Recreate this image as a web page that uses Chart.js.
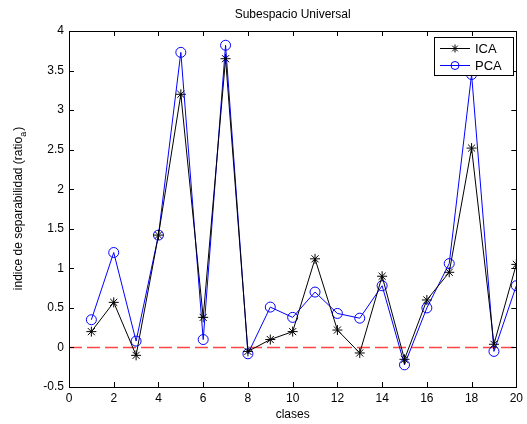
<!DOCTYPE html>
<html>
<head>
<meta charset="utf-8">
<script src="https://cdn.jsdelivr.net/npm/chart.js@4.4.0/dist/chart.umd.min.js"></script>
<style>
  html, body { margin: 0; padding: 0; background: #fff; }
  #wrap { width: 527px; height: 424px; }
</style>
</head>
<body>
<div id="wrap"><canvas id="chart" width="527" height="424"></canvas></div>
<script>
const clases = [1, 2, 3, 4, 5, 6, 7, 8, 9, 10, 11, 12, 13, 14, 15, 16, 17, 18, 19, 20];
const icaValues = [0.2, 0.57, -0.1, 1.42, 3.2, 0.38, 3.65, -0.05, 0.1, 0.2, 1.12, 0.22, -0.07, 0.9, -0.15, 0.6, 0.95, 2.52, 0.04, 1.05];
const pcaValues = [0.35, 1.2, 0.08, 1.42, 3.73, 0.1, 3.82, -0.08, 0.51, 0.38, 0.7, 0.43, 0.37, 0.78, -0.22, 0.5, 1.06, 3.45, -0.05, 0.78];
const xTicks = [0, 2, 4, 6, 8, 10, 12, 14, 16, 18, 20];
const yTicks = [-0.5, 0, 0.5, 1, 1.5, 2, 2.5, 3, 3.5, 4];
const zeroLine = [{ x: 0, y: 0 }, { x: 20, y: 0 }];

const FONT = "'Liberation Sans', Arial, sans-serif";

// box, inward ticks, titles and legend drawn MATLAB style
const matlabFrame = {
  id: 'matlabFrame',
  afterDraw(chart) {
    const ctx = chart.ctx;
    const a = chart.chartArea;
    const xs = chart.scales.x, ys = chart.scales.y;
    ctx.save();
    ctx.strokeStyle = '#000';
    ctx.lineWidth = 1;
    ctx.strokeRect(Math.round(a.left) + 0.5, Math.round(a.top) + 0.5,
      Math.round(a.right - a.left), Math.round(a.bottom - a.top));
    ctx.beginPath();
    xTicks.forEach(v => {
      const px = Math.round(xs.getPixelForValue(v)) + 0.5;
      ctx.moveTo(px, a.bottom); ctx.lineTo(px, a.bottom - 5);
      ctx.moveTo(px, a.top); ctx.lineTo(px, a.top + 5);
    });
    yTicks.forEach(v => {
      const py = Math.round(ys.getPixelForValue(v)) + 0.5;
      ctx.moveTo(a.left, py); ctx.lineTo(a.left + 5, py);
      ctx.moveTo(a.right, py); ctx.lineTo(a.right - 5, py);
    });
    ctx.stroke();

    ctx.fillStyle = '#000';
    ctx.font = '12px ' + FONT;
    ctx.textAlign = 'center';
    ctx.textBaseline = 'alphabetic';
    ctx.fillText('Subespacio Universal', (a.left + a.right) / 2, 18);
    ctx.fillText('clases', (a.left + a.right) / 2, 418);

    // y label with subscript
    ctx.translate(22, (a.top + a.bottom) / 2);
    ctx.rotate(-Math.PI / 2);
    const main = 'indice de separabilidad (ratio';
    const sub = 'a';
    const close = ')';
    ctx.font = '12px ' + FONT;
    const w1 = ctx.measureText(main).width;
    const w3 = ctx.measureText(close).width;
    ctx.font = '9px ' + FONT;
    const w2 = ctx.measureText(sub).width;
    const total = w1 + w2 + w3;
    ctx.textAlign = 'left';
    let x0 = -total / 2;
    ctx.font = '12px ' + FONT;
    ctx.fillText(main, x0, 0);
    ctx.font = '9px ' + FONT;
    ctx.fillText(sub, x0 + w1, 4);
    ctx.font = '12px ' + FONT;
    ctx.fillText(close, x0 + w1 + w2 + 1, 0);
    ctx.setTransform(1, 0, 0, 1, 0, 0);

    // legend
    const lx = 434, ly = 37, lw = 79, lh = 38;
    ctx.fillStyle = '#fff';
    ctx.fillRect(lx, ly, lw, lh);
    ctx.strokeStyle = '#000';
    ctx.strokeRect(lx + 0.5, ly + 0.5, lw, lh);
    const items = [
      { label: 'ICA', color: '#000', style: 'star', y: ly + 11 },
      { label: 'PCA', color: '#0000ff', style: 'circle', y: ly + 28 }
    ];
    items.forEach(it => {
      ctx.strokeStyle = it.color;
      ctx.beginPath();
      ctx.moveTo(lx + 6, it.y + 0.5); ctx.lineTo(lx + 36, it.y + 0.5);
      ctx.stroke();
      ctx.fillStyle = 'rgba(255,255,255,0)';
      Chart.helpers.drawPoint(ctx, { pointStyle: it.style, radius: 4, borderWidth: 1 }, lx + 21, it.y + 0.5);
      ctx.fillStyle = '#000';
      ctx.font = '13px ' + FONT;
      ctx.textAlign = 'left';
      ctx.textBaseline = 'middle';
      ctx.fillText(it.label, lx + 41, it.y + 1);
    });
    ctx.restore();
  }
};

new Chart(document.getElementById('chart').getContext('2d'), {
  type: 'line',
  data: {
    datasets: [
      {
        label: 'zero',
        data: zeroLine,
        borderColor: 'rgb(255, 70, 70)',
        backgroundColor: 'rgb(255, 70, 70)',
        borderWidth: 1.5,
        borderDash: [13, 5],
        pointRadius: 0,
        order: 3
      },
      {
        label: 'PCA',
        data: clases.map((c, i) => ({ x: c, y: pcaValues[i] })),
        borderColor: '#0000ff',
        backgroundColor: 'transparent',
        borderWidth: 1,
        pointStyle: 'circle',
        pointRadius: 5,
        pointBorderWidth: 1,
        pointBorderColor: '#0000ff',
        pointBackgroundColor: 'transparent',
        tension: 0,
        order: 2
      },
      {
        label: 'ICA',
        data: clases.map((c, i) => ({ x: c, y: icaValues[i] })),
        borderColor: '#000',
        backgroundColor: 'transparent',
        borderWidth: 1,
        pointStyle: 'star',
        pointRadius: 5,
        pointBorderWidth: 1,
        pointBorderColor: '#000',
        tension: 0,
        order: 1
      }
    ]
  },
  options: {
    responsive: false,
    animation: false,
    layout: { padding: { top: 31, right: 7, left: 0, bottom: 0 } },
    plugins: {
      legend: { display: false },
      tooltip: { enabled: false },
      title: { display: false }
    },
    scales: {
      x: {
        type: 'linear',
        min: 0,
        max: 20,
        afterFit: s => { s.height = 37; },
        afterBuildTicks: s => { s.ticks = xTicks.map(v => ({ value: v })); },
        grid: { display: false, tickLength: 0 },
        border: { display: false },
        ticks: { color: '#000', font: { family: FONT, size: 12 }, padding: 4, maxRotation: 0, callback: v => String(v) }
      },
      y: {
        min: -0.5,
        max: 4,
        afterFit: s => { s.width = 69; },
        afterBuildTicks: s => { s.ticks = yTicks.map(v => ({ value: v })); },
        grid: { display: false, tickLength: 0 },
        border: { display: false },
        ticks: { color: '#000', font: { family: FONT, size: 12 }, padding: 5, callback: v => String(v) }
      }
    }
  },
  plugins: [matlabFrame]
});
</script>
</body>
</html>
